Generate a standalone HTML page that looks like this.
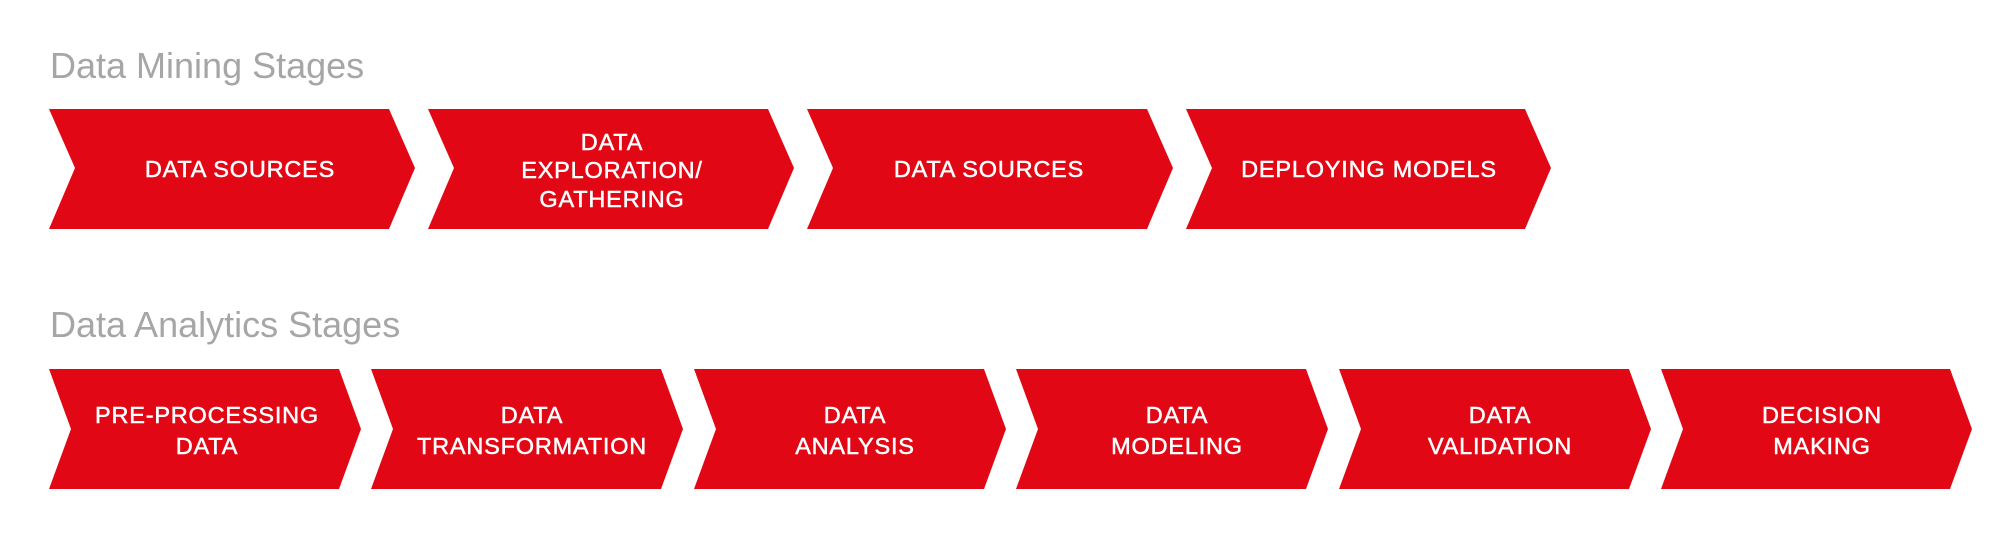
<!DOCTYPE html>
<html><head><meta charset="utf-8"><style>
html,body{margin:0;padding:0;background:#fff;}
svg{display:block}
.t{font-family:"Liberation Sans",sans-serif;font-size:36px;fill:#a6a6a6;}
.l{font-family:"Liberation Sans",sans-serif;font-size:23.5px;fill:#fff;stroke:#fff;stroke-width:0.5;letter-spacing:0.8px;text-anchor:middle;}
</style></head><body>
<svg width="2000" height="554" viewBox="0 0 2000 554" xmlns="http://www.w3.org/2000/svg">
<rect width="2000" height="554" fill="#fff"/>
<text class="t" x="50" y="78">Data Mining Stages</text>
<text class="t" x="50" y="337">Data Analytics Stages</text>
<g fill="#e20714">
<polygon points="49,109 389,109 415,168 389,229 49,229 75,168"/>
<polygon points="428,109 768,109 794,168 768,229 428,229 454,168"/>
<polygon points="807,109 1147,109 1173,168 1147,229 807,229 833,168"/>
<polygon points="1186,109 1525,109 1551,168 1525,229 1186,229 1212,168"/>
<polygon points="49,369 339,369 361,429 339,489 49,489 71,429"/>
<polygon points="371,369 661,369 683,429 661,489 371,489 393,429"/>
<polygon points="694,369 984,369 1006,429 984,489 694,489 716,429"/>
<polygon points="1016,369 1306,369 1328,429 1306,489 1016,489 1038,429"/>
<polygon points="1339,369 1629,369 1651,429 1629,489 1339,489 1361,429"/>
<polygon points="1661,369 1950,369 1972,429 1950,489 1661,489 1683,429"/>
</g>
<g class="l">
<text x="240" y="177">DATA SOURCES</text>
<text x="612" y="150">DATA</text>
<text x="612" y="178">EXPLORATION/</text>
<text x="612" y="207">GATHERING</text>
<text x="989" y="177">DATA SOURCES</text>
<text x="1369" y="177">DEPLOYING MODELS</text>
<text x="207" y="423">PRE-PROCESSING</text>
<text x="207" y="454">DATA</text>
<text x="532" y="423">DATA</text>
<text x="532" y="454">TRANSFORMATION</text>
<text x="855" y="423">DATA</text>
<text x="855" y="454">ANALYSIS</text>
<text x="1177" y="423">DATA</text>
<text x="1177" y="454">MODELING</text>
<text x="1500" y="423">DATA</text>
<text x="1500" y="454">VALIDATION</text>
<text x="1822" y="423">DECISION</text>
<text x="1822" y="454">MAKING</text>
</g>
</svg>
</body></html>
